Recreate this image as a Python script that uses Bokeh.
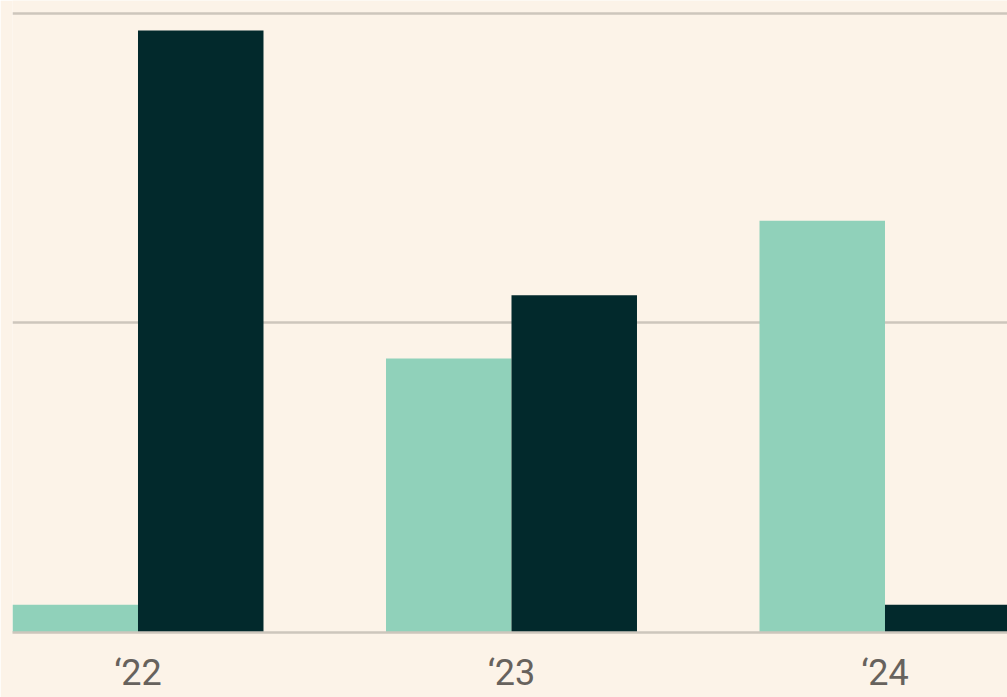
from bokeh.plotting import figure
from bokeh.models import ColumnDataSource, FixedTicker, Range1d
from bokeh.embed import file_html
from bokeh.resources import INLINE

# Yearly values for the two series
years = ["\u201822", "\u201823", "\u201824"]
series_a = [0.9, 8.85, 13.3]    # light green
series_b = [19.45, 10.9, 0.9]   # dark green
grid_values = [10, 20]

BG = "#FCF3E8"
LIGHT = "#90D1BA"
DARK = "#02292C"
GRID = "#CDC6BC"
TEXT = "#67625D"

x_pos = list(range(len(years)))
bar_w = 0.336
px_per_group = 373.5

src = ColumnDataSource(dict(
    x_a=[x - bar_w / 2 for x in x_pos],
    x_b=[x + bar_w / 2 for x in x_pos],
    a=series_a,
    b=series_b,
))

p = figure(
    width=1007, height=697,
    x_range=Range1d(-bar_w, -bar_w + 995 / px_per_group),
    y_range=Range1d(0, 20.42),
    output_backend="svg", toolbar_location=None,
    y_axis_location=None,
    min_border_left=12, min_border_right=0,
    min_border_top=0, min_border_bottom=65,
)
p.background_fill_color = BG
p.border_fill_color = BG
p.outline_line_color = None

p.vbar(x="x_a", top="a", width=bar_w, bottom=0, source=src,
       fill_color=LIGHT, line_color=None)
p.vbar(x="x_b", top="b", width=bar_w, bottom=0, source=src,
       fill_color=DARK, line_color=None)

p.xgrid.grid_line_color = None
p.ygrid.ticker = FixedTicker(ticks=grid_values)
p.ygrid.grid_line_color = GRID
p.ygrid.grid_line_width = 2.5

ax = p.xaxis[0]
ax.ticker = FixedTicker(ticks=x_pos)
ax.major_label_overrides = {i: y for i, y in zip(x_pos, years)}
ax.axis_line_color = GRID
ax.axis_line_width = 2.5
ax.major_tick_line_color = None
ax.minor_tick_line_color = None
ax.major_tick_out = 0
ax.major_label_standoff = 19
ax.major_label_text_font = "Roboto"
ax.major_label_text_font_size = "36px"
ax.major_label_text_color = TEXT

open("out.html", "w").write(file_html(p, INLINE))
